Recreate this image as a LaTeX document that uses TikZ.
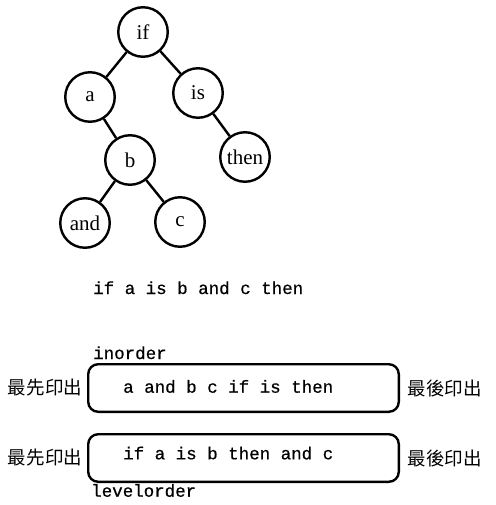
\documentclass[tikz,border=0pt]{standalone}
\usepackage{fontspec}
\setmainfont{Liberation Serif}
\setmonofont[FakeBold=0.6]{Liberation Mono}
\newfontfamily\cjk{Noto Sans CJK TC}
\begin{document}
\begin{tikzpicture}[x=1pt,y=-1pt,
  tnode/.style={circle,draw,line width=2.4pt,minimum size=49.5pt,inner sep=0pt,font=\fontsize{21}{22}\selectfont},
  tedge/.style={line width=2.4pt},
  seqbox/.style={draw,line width=2.4pt,rounded corners=10pt},
  mono/.style={font=\ttfamily\fontsize{17.5}{20}\selectfont,inner sep=0pt,anchor=base west},
  cjklab/.style={font=\cjk\fontsize{18.5}{20}\selectfont,inner sep=0pt}]
\useasboundingbox (0,0) rectangle (495,505);
\node[tnode] (if) at (143,32) {if};
\node[tnode] (a) at (90,97) {a};
\node[tnode] (is) at (198,93) {is};
\node[tnode] (b) at (130,160) {b};
\node[tnode] (then) at (245,157) {then};
\node[tnode] (and) at (85,223) {and};
\node[tnode] (c) at (180,222) {c};
\draw[tedge] (if) -- (a);
\draw[tedge] (if) -- (is);
\draw[tedge] (a) -- (b);
\draw[tedge] (is) -- (then);
\draw[tedge] (b) -- (and);
\draw[tedge] (b) -- (c);
\node[mono] (s0) at (93,294) {if a is b and c then};
\node[mono] (inord) at (93,359) {inorder};
\draw[seqbox] (88.2,364.2) rectangle (398.8,411.8);
\node[mono] (s1) at (123,392.7) {a and b c if is then};
\node[cjklab] (l1) at (45,388) {最先印出};
\node[cjklab] (r1) at (444.5,388) {最後印出};
\draw[seqbox] (88.2,434.2) rectangle (398.8,481.8);
\node[mono] (s2) at (123,459.3) {if a is b then and c};
\node[cjklab] (l2) at (45,458) {最先印出};
\node[cjklab] (r2) at (444.5,458) {最後印出};
\node[mono] (lev) at (91,496.7) {levelorder};
\end{tikzpicture}
\end{document}
